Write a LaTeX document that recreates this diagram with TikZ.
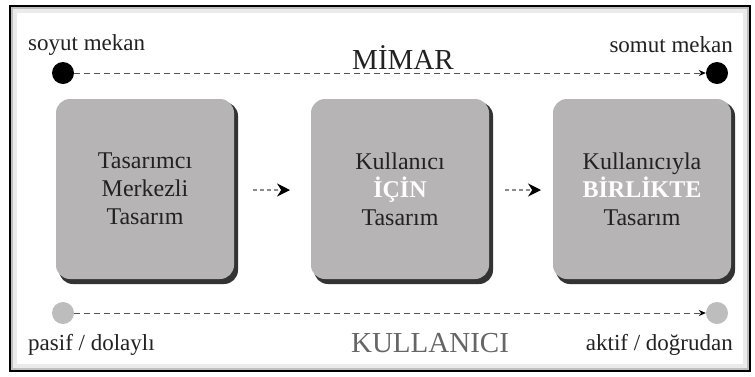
\documentclass[tikz,border=0pt]{standalone}
\usepackage{fontspec}
\setmainfont{Liberation Serif}
\usetikzlibrary{arrows.meta}
\definecolor{boxgray}{HTML}{B6B4B5}
\definecolor{txtdark}{HTML}{222222}
\definecolor{dotgray}{HTML}{BDBDBD}
\definecolor{linegray}{HTML}{555555}
\tikzset{
  stagebox/.style={fill=boxgray, rounded corners=14pt, minimum width=178pt, minimum height=180pt, inner sep=0pt,
    text=txtdark, align=center, font=\fontsize{24}{28}\selectfont},
  lbl/.style={text=txtdark, font=\fontsize{23}{26}\selectfont, inner sep=0pt},
  bigl/.style={font=\fontsize{29}{32}\selectfont, inner sep=0pt},
  dotnode/.style={circle, minimum size=22pt, inner sep=0pt},
  flowline/.style={draw=linegray, line width=1pt, dash pattern=on 6pt off 4pt, -{Stealth[length=7pt,width=6pt,color=black]}},
  midline/.style={draw=black!45, line width=1.3pt, dash pattern=on 4pt off 3pt, -{Stealth[length=13pt,width=13pt,color=black]}},
}
\begin{document}
\begin{tikzpicture}[x=1pt,y=-1pt]
\useasboundingbox (0,0) rectangle (755,376);
\fill[white] (0,0) rectangle (755,376);
% frame
\fill[black!25] (10,6) rectangle (750,371);
\fill[black!8] (13,9) rectangle (747,368);
\fill[white] (17,13) rectangle (743,364);
\draw[black, line width=2pt] (10,6) rectangle (750,371);
% shadows of boxes
\foreach \x in {55,310,552}{
  \fill[black!80, rounded corners=14pt] (\x+4,102) rectangle (\x+183,284);
}
\node[stagebox] (b1) at (145,189) {Tasarımcı\\Merkezli\\Tasarım};
\node[stagebox] (b2) at (400,189) {Kullanıcı\\{\color{white}\bfseries İÇİN}\\Tasarım};
\node[stagebox] (b3) at (642,189) {Kullanıcıyla\\{\color{white}\bfseries BİRLİKTE}\\Tasarım};
% dots
\node[dotnode, fill=black] (d1) at (63,73) {};
\node[dotnode, fill=black] (d2) at (717,73) {};
\node[dotnode, fill=dotgray] (d3) at (63,313) {};
\node[dotnode, fill=dotgray] (d4) at (717,313) {};
\draw[flowline] (d1) -- (d2);
\draw[flowline] (d3) -- (d4);
% mid arrows
\coordinate (m1s) at (253,190);
\coordinate (m1e) at (290,190);
\coordinate (m2s) at (505,190);
\coordinate (m2e) at (541,190);
\draw[midline] (m1s) -- (m1e);
\draw[midline] (m2s) -- (m2e);
% labels
\node[lbl, anchor=west] (l1) at (28,45) {soyut mekan};
\node[lbl, anchor=east] (l2) at (733,45) {somut mekan};
\node[bigl, text=txtdark] (l3) at (403,58) {MİMAR};
\node[lbl, anchor=west] (l4) at (28,345) {pasif / dolaylı};
\node[bigl, text=black!60] (l5) at (430,343) {KULLANICI};
\node[lbl, anchor=east] (l6) at (733,345) {aktif / doğrudan};
\end{tikzpicture}
\end{document}
